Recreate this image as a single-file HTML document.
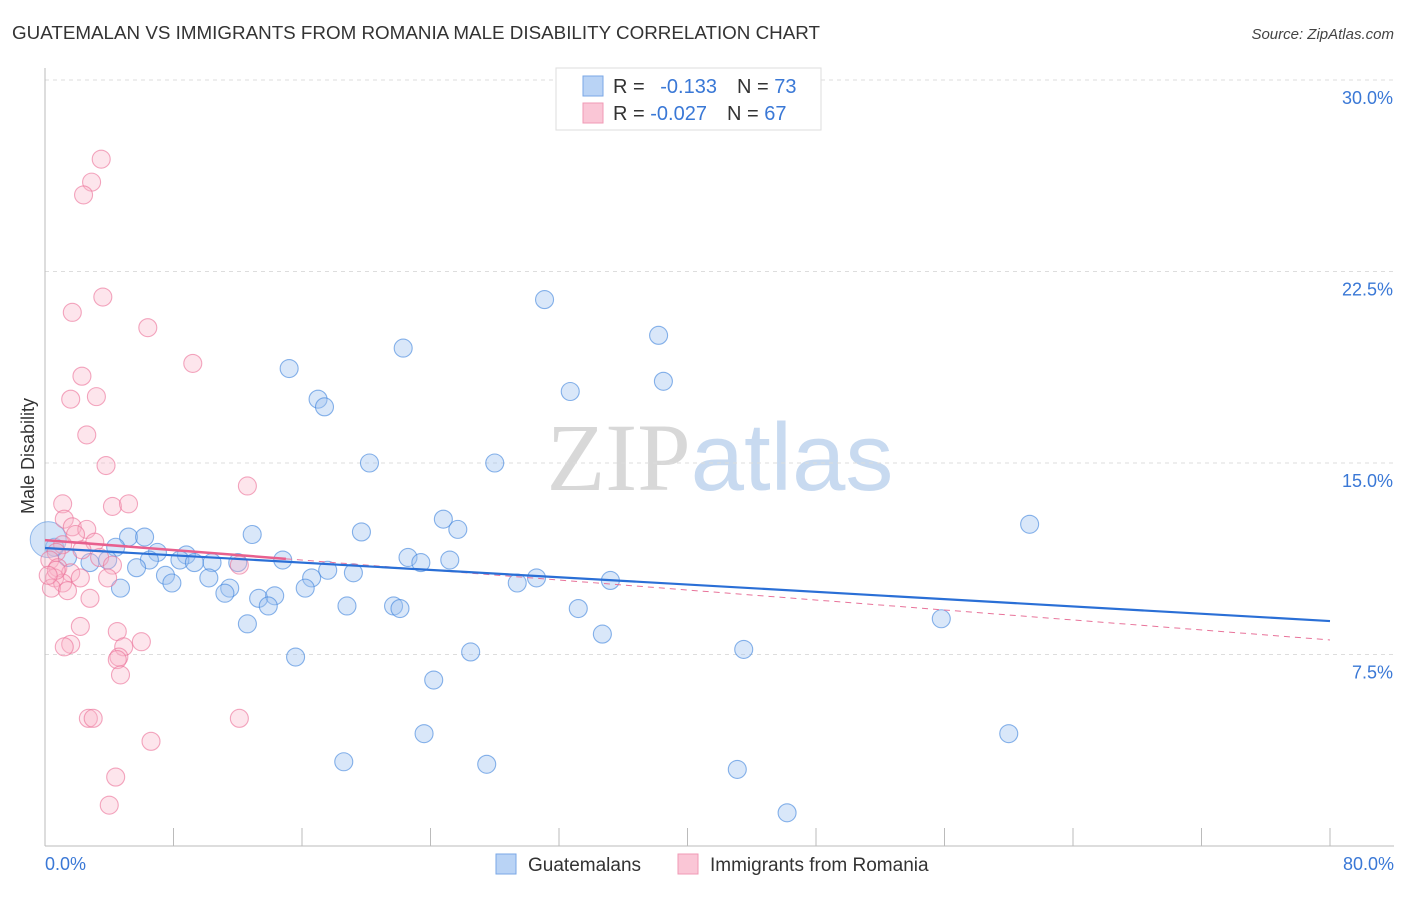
<!DOCTYPE html>
<html><head><meta charset="utf-8"><style>
body{margin:0;background:#fff;font-family:"Liberation Sans",sans-serif}
</style></head><body>
<svg id="chart" width="1406" height="892" xmlns="http://www.w3.org/2000/svg" font-family="Liberation Sans, sans-serif">
<text x="12" y="39" font-size="18" fill="#333" textLength="808" lengthAdjust="spacingAndGlyphs">GUATEMALAN VS IMMIGRANTS FROM ROMANIA MALE DISABILITY CORRELATION CHART</text>
<text x="1394" y="39" font-size="15" fill="#444" text-anchor="end" font-style="italic">Source: ZipAtlas.com</text>
<text transform="translate(34,456) rotate(-90)" font-size="18" fill="#333" text-anchor="middle">Male Disability</text>
<text x="720" y="490" font-size="96" text-anchor="middle"><tspan fill="#d8d8d8" font-family="Liberation Serif, serif">ZIP</tspan><tspan fill="#c8daf0">atlas</tspan></text>
<g id="grid"></g><g id="axes"></g><g id="pts"></g><g id="lines"></g>
<g>
<rect x="556" y="68" width="265" height="62" fill="#fff" stroke="#ddd"/>
<rect x="583" y="76" width="20" height="20" fill="#b9d3f5" stroke="#7aa7e6"/>
<rect x="583" y="103" width="20" height="20" fill="#fac6d6" stroke="#f09ab5"/>
<text x="613" y="93" font-size="20" fill="#333">R = <tspan fill="#3a78d6" dx="10">-0.133</tspan><tspan fill="#333" dx="20">N = </tspan><tspan fill="#3a78d6">73</tspan></text>
<text x="613" y="120" font-size="20" fill="#333">R = <tspan fill="#3a78d6">-0.027</tspan><tspan fill="#333" dx="20">N = </tspan><tspan fill="#3a78d6">67</tspan></text>
</g>
<g>
<rect x="496" y="854" width="20" height="20" fill="#b9d3f5" stroke="#7aa7e6"/>
<text x="528" y="871" font-size="19" fill="#333">Guatemalans</text>
<rect x="678" y="854" width="20" height="20" fill="#fac6d6" stroke="#f09ab5"/>
<text x="710" y="871" font-size="19" fill="#333">Immigrants from Romania</text>
</g>
</svg>
<script>
const yTicks=[7.5,15,22.5,30];
const yTickLabels=["7.5%","15.0%","22.5%","30.0%"];
const xTickVals=[0,8,16,24,32,40,48,56,64,72,80];
const blueX=[31.1,22.3,38.2,15.2,32.7,38.5,17.0,17.4,20.2,28.0,61.3,24.8,25.7,19.7,12.9,5.2,6.2,4.4,7.0,8.8,22.6,14.8,25.2,23.4,6.5,8.4,9.3,10.4,12.0,2.8,3.9,1.4,0.6,5.7,7.5,17.6,19.2,16.6,10.2,7.9,4.7,11.5,16.2,29.4,30.6,35.2,11.2,13.3,14.3,13.9,18.8,21.7,22.1,33.2,12.6,55.8,34.7,15.6,26.5,43.5,24.2,23.6,60.0,18.6,27.5,43.1,46.2];
const blueY=[21.4,19.5,20.0,18.7,17.8,18.2,17.5,17.2,15.0,15.0,12.6,12.8,12.4,12.3,12.2,12.1,12.1,11.7,11.5,11.4,11.3,11.2,11.2,11.1,11.2,11.2,11.1,11.1,11.1,11.1,11.2,11.3,11.7,10.9,10.6,10.8,10.7,10.5,10.5,10.3,10.1,10.1,10.1,10.3,10.5,10.4,9.9,9.7,9.8,9.4,9.4,9.4,9.3,9.3,8.7,8.9,8.3,7.4,7.6,7.7,6.5,4.4,4.4,3.3,3.2,3.0,1.3];
const pinkX=[3.5,2.9,2.4,3.6,1.7,6.4,9.2,2.3,3.2,1.6,2.6,3.8,12.6,1.1,4.2,5.2,1.2,1.7,2.6,1.9,3.1,1.1,0.7,2.3,3.4,4.2,12.1,0.3,0.8,1.6,2.2,0.6,1.1,0.4,1.4,3.9,2.8,2.2,4.5,6.0,1.6,1.2,4.9,4.6,4.5,4.7,2.7,3.0,12.1,6.6,4.4,4.0,0.7,0.2];
const pinkY=[26.9,26.0,25.5,21.5,20.9,20.3,18.9,18.4,17.6,17.5,16.1,14.9,14.1,13.4,13.3,13.4,12.8,12.5,12.4,12.2,11.9,11.8,11.5,11.6,11.3,11.0,11.0,11.2,10.9,10.7,10.5,10.5,10.3,10.1,10.0,10.5,9.7,8.6,8.4,8.0,7.9,7.8,7.8,7.4,7.3,6.7,5.0,5.0,5.0,4.1,2.7,1.6,10.8,10.6];
const blueTrend=[11.67,8.81];
const pinkTrend=[11.98,8.07];
const NS="http://www.w3.org/2000/svg";
const X0=45,X1=1330,Y0=846,YT=80;
const sx=v=>X0+(v/80)*(X1-X0);
const sy=v=>Y0-(v/30)*(Y0-YT);
function mk(t,a,p){const e=document.createElementNS(NS,t);for(const k in a)e.setAttribute(k,a[k]);p.appendChild(e);return e;}
const grid=document.getElementById('grid'),axes=document.getElementById('axes'),pts=document.getElementById('pts'),lines=document.getElementById('lines');
yTicks.forEach((v,i)=>{
 const l=mk('line',{x1:X0,x2:1394,y1:sy(v),y2:sy(v),stroke:'#ddd','stroke-dasharray':'4,4'},grid);
 
 
 const t=mk('text',{x:1393,y:sy(v)+24,'font-size':18,fill:'#3a78d6','text-anchor':'end'},axes);
 t.textContent=yTickLabels[i];
 
 
});
const ya=mk('line',{x1:X0,x2:X0,y1:68,y2:Y0,stroke:'#bbb'},axes);


const xa=mk('line',{x1:X0,x2:1394,y1:Y0,y2:Y0,stroke:'#bbb'},axes);


xTickVals.forEach(v=>{
 const t=mk('line',{x1:sx(v),x2:sx(v),y1:828,y2:Y0,stroke:'#bbb'},axes);
 
 
});
const xl0=mk('text',{x:45,y:870,'font-size':18,fill:'#3a78d6'},axes);xl0.textContent='0.0%';


const xl1=mk('text',{x:1394,y:870,'font-size':18,fill:'#3a78d6','text-anchor':'end'},axes);xl1.textContent='80.0%';


blueX.forEach((v,i)=>{
 const c=mk('circle',{cx:sx(v),cy:sy(blueY[i]),r:9,fill:'rgba(160,196,240,0.4)',stroke:'rgba(60,130,220,0.6)','stroke-width':1.1},pts);
 
 
});
const big=mk('circle',{cx:sx(0.2),cy:sy(12.0),r:18,fill:'rgba(160,196,240,0.45)',stroke:'rgba(60,130,220,0.5)'},pts);


pinkX.forEach((v,i)=>{
 const c=mk('circle',{cx:sx(v),cy:sy(pinkY[i]),r:9,fill:'rgba(248,180,200,0.35)',stroke:'rgba(235,110,150,0.6)','stroke-width':1.1},pts);
 
 
});
const pv=x=>pinkTrend[0]+(pinkTrend[1]-pinkTrend[0])*x/80;
const pd=mk('line',{x1:sx(15),y1:sy(pv(15)),x2:sx(80),y2:sy(pinkTrend[1]),stroke:'#e8739a','stroke-width':1,'stroke-dasharray':'6,5'},lines);


const ps=mk('line',{x1:sx(0),y1:sy(pinkTrend[0]),x2:sx(15),y2:sy(pv(15)),stroke:'#e8608e','stroke-width':2.5},lines);


const bl=mk('line',{x1:sx(0),y1:sy(blueTrend[0]),x2:sx(80),y2:sy(blueTrend[1]),stroke:'#2a6fd6','stroke-width':2.2},lines);


</script>
</body></html>
